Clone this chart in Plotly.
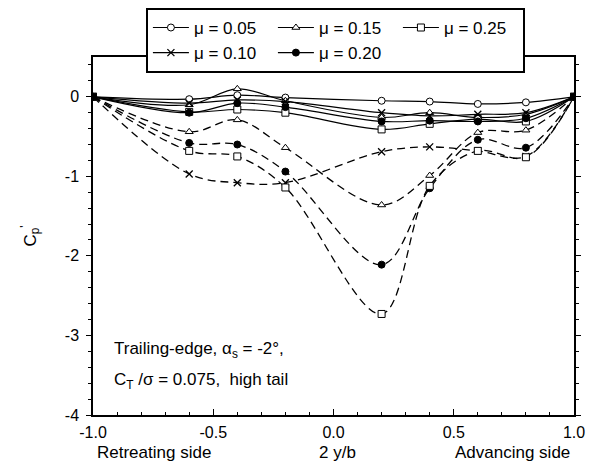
import plotly.graph_objects as go

# ---- data ----
x_pos = [-1.0, -0.6, -0.4, -0.2, 0.2, 0.4, 0.6, 0.8, 1.0]
mu_labels = ["μ = 0.05", "μ = 0.10", "μ = 0.15", "μ = 0.20", "μ = 0.25"]

# solid curves (near zero)
cp_solid_005 = [0, -0.03, 0.02, -0.01, -0.05, -0.06, -0.09, -0.07, 0]
cp_solid_010 = [0, -0.08, -0.04, -0.06, -0.20, -0.24, -0.22, -0.20, 0]
cp_solid_015 = [0, -0.10, 0.10, -0.05, -0.26, -0.20, -0.26, -0.22, 0]
cp_solid_020 = [0, -0.20, -0.08, -0.13, -0.31, -0.30, -0.31, -0.27, 0]
cp_solid_025 = [0, -0.19, -0.16, -0.20, -0.41, -0.34, -0.28, -0.31, 0]

# dashed curves
cp_dash_010 = [0, -0.97, -1.08, -1.08, -0.69, -0.63, -0.68, -0.75, 0]
cp_dash_015 = [0, -0.44, -0.29, -0.64, -1.36, -0.99, -0.45, -0.42, 0]
cp_dash_020 = [0, -0.58, -0.60, -0.94, -2.11, -1.15, -0.54, -0.64, 0]
cp_dash_025 = [0, -0.68, -0.75, -1.14, -2.73, -1.12, -0.68, -0.76, 0]

y_tick_vals = [0, -1, -2, -3, -4]
y_tick_text = ["0", "-1", "-2", "-3", "-4"]
x_tick_vals = [-1.0, -0.5, 0.0, 0.5, 1.0]
x_tick_text = ["-1.0", "-0.5", "0.0", "0.5", "1.0"]

FONT = "Liberation Sans, Arial, sans-serif"

markers = {
    "μ = 0.05": dict(symbol="circle", size=7, color="white", line=dict(color="black", width=1)),
    "μ = 0.10": dict(symbol="x-thin", size=7, color="black", line=dict(color="black", width=1.3)),
    "μ = 0.15": dict(symbol="triangle-up", size=7, color="white", line=dict(color="black", width=1)),
    "μ = 0.20": dict(symbol="circle", size=7, color="black", line=dict(color="black", width=1)),
    "μ = 0.25": dict(symbol="square", size=7, color="white", line=dict(color="black", width=1)),
}

solid = {
    "μ = 0.05": cp_solid_005,
    "μ = 0.10": cp_solid_010,
    "μ = 0.15": cp_solid_015,
    "μ = 0.20": cp_solid_020,
    "μ = 0.25": cp_solid_025,
}
dashed = {
    "μ = 0.10": cp_dash_010,
    "μ = 0.15": cp_dash_015,
    "μ = 0.20": cp_dash_020,
    "μ = 0.25": cp_dash_025,
}

fig = go.Figure()

for name, ys in dashed.items():
    fig.add_trace(go.Scatter(
        x=x_pos, y=ys, mode="lines+markers", name=name, showlegend=False,
        line=dict(color="black", width=1.3, dash="8px,5px", shape="spline", smoothing=1.0),
        marker=markers[name],
    ))

legend_order = ["μ = 0.05", "μ = 0.15", "μ = 0.25", "μ = 0.10", "μ = 0.20"]
for rank, name in enumerate(legend_order):
    fig.add_trace(go.Scatter(
        x=x_pos, y=solid[name], mode="lines+markers", name=name, legendrank=rank + 1,
        line=dict(color="black", width=1.2, shape="spline", smoothing=1.0),
        marker=markers[name],
    ))

fig.update_layout(
    width=590, height=467,
    margin=dict(l=93, r=16, t=57, b=52, autoexpand=False),
    paper_bgcolor="white", plot_bgcolor="white",
    font=dict(family=FONT, size=16, color="black"),
    legend=dict(
        orientation="h", x=0.11, y=1.137, xanchor="left", yanchor="top",
        bgcolor="white", bordercolor="black", borderwidth=2,
        font=dict(family=FONT, size=17, color="black"),
        itemwidth=36, entrywidth=74, tracegroupgap=0,
        traceorder="normal",
    ),
    xaxis=dict(
        range=[-1.0, 1.0], showgrid=False, zeroline=False,
        tickmode="array", tickvals=x_tick_vals, ticktext=x_tick_text,
        ticks="inside", ticklen=6, tickwidth=1, tickcolor="black",
        minor=dict(dtick=0.1, ticks="inside", ticklen=3, tickcolor="black"),
        showline=True, linecolor="black", linewidth=1.5, mirror=True,
        ticklabelstandoff=2,
        tickfont=dict(family=FONT, size=16),
    ),
    yaxis=dict(
        range=[-4.0, 0.5], showgrid=False, zeroline=False,
        tickmode="array", tickvals=y_tick_vals, ticktext=y_tick_text,
        ticks="outside", ticklen=5, tickwidth=1, tickcolor="black",
        minor=dict(dtick=0.2, ticks="outside", ticklen=3, tickcolor="black"),
        showline=True, linecolor="black", linewidth=1.5, mirror="ticks",
        ticklabelstandoff=4,
        tickfont=dict(family=FONT, size=16),
        title=dict(text="C<sub>p</sub><sup>'</sup>", font=dict(family=FONT, size=17), standoff=24),
    ),
    annotations=[
        dict(x=-0.99, y=-0.106, xref="x", yref="paper", text="Retreating side",
             showarrow=False, xanchor="left", yanchor="middle", font=dict(size=17)),
        dict(x=0.015, y=-0.106, xref="x", yref="paper", text="2 y/b",
             showarrow=False, xanchor="center", yanchor="middle", font=dict(size=17)),
        dict(x=0.99, y=-0.106, xref="x", yref="paper", text="Advancing side",
             showarrow=False, xanchor="right", yanchor="middle", font=dict(size=17)),
        dict(x=-0.92, y=-3.18, xref="x", yref="y", text="Trailing-edge, α<sub>s</sub> = -2°,",
             showarrow=False, xanchor="left", yanchor="middle", font=dict(size=17)),
        dict(x=-0.92, y=-3.57, xref="x", yref="y", text="C<sub>T</sub> /σ = 0.075,  high tail",
             showarrow=False, xanchor="left", yanchor="middle", font=dict(size=17)),
    ],
)

fig.write_html("out.html")
